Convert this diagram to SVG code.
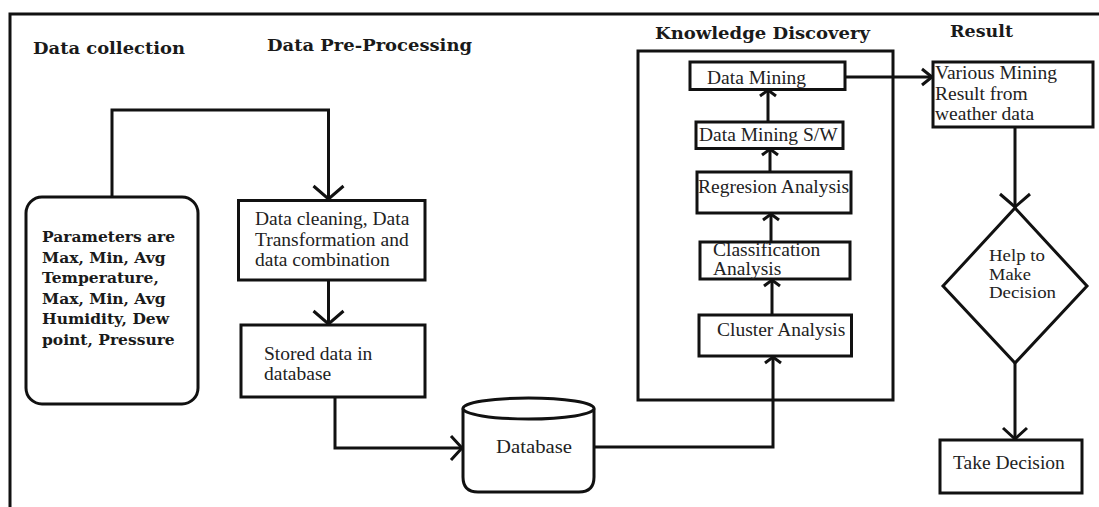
<svg xmlns="http://www.w3.org/2000/svg" width="1099" height="507" viewBox="0 0 1099 507">
<style>
.box{fill:#fff;stroke:#111;stroke-width:3}
.ln{fill:none;stroke:#111;stroke-width:3}
.h{font-family:"DejaVu Serif","Liberation Serif",serif;font-weight:bold;font-size:16px;fill:#1a1a1a}
.pb{font-family:"DejaVu Serif","Liberation Serif",serif;font-weight:bold;font-size:15.5px;fill:#1a1a1a}
.t{font-family:"Liberation Serif","Times New Roman",serif;font-size:19.5px;fill:#222}
.ts{font-family:"Liberation Serif","Times New Roman",serif;font-size:16.5px;fill:#222}
</style>
<defs>
<marker id="aBig" markerUnits="userSpaceOnUse" markerWidth="34" markerHeight="34" viewBox="-17 -17 34 34" refX="0" refY="0" orient="auto" overflow="visible"><path d="M-13,-15 L0,0 L-13,15" fill="none" stroke="#111" stroke-width="3"/></marker>
<marker id="aMid" markerUnits="userSpaceOnUse" markerWidth="30" markerHeight="30" viewBox="-15 -15 30 30" refX="0" refY="0" orient="auto" overflow="visible"><path d="M-11,-12 L0,0 L-11,12" fill="none" stroke="#111" stroke-width="3"/></marker>
<marker id="aSm" markerUnits="userSpaceOnUse" markerWidth="24" markerHeight="24" viewBox="-12 -12 24 24" refX="0" refY="0" orient="auto" overflow="visible"><path d="M-10,-8 L0,0 L-10,8" fill="none" stroke="#111" stroke-width="3"/></marker>
<marker id="aTiny" markerUnits="userSpaceOnUse" markerWidth="20" markerHeight="20" viewBox="-10 -10 20 20" refX="0" refY="0" orient="auto" overflow="visible"><path d="M-6,-8 L0,0 L-6,8" fill="none" stroke="#111" stroke-width="3"/></marker>
</defs>
<rect width="1099" height="507" fill="#fff"/>
<g id="frame"><path class="ln" d="M10,507 L10,14 L1099,14"/></g>
<g id="headings">
<text class="h" x="33" y="54" textLength="152" lengthAdjust="spacingAndGlyphs">Data collection</text>
<text class="h" x="267" y="51" textLength="205" lengthAdjust="spacingAndGlyphs">Data Pre-Processing</text>
<text class="h" x="655" y="38.5" textLength="215" lengthAdjust="spacingAndGlyphs">Knowledge Discovery</text>
<text class="h" x="950" y="37" textLength="63" lengthAdjust="spacingAndGlyphs">Result</text>
</g>
<g id="knowledge-discovery"><rect x="638" y="51" width="255" height="349" fill="none" stroke="#111" stroke-width="3"/></g>
<g id="connectors">
<path class="ln" d="M112,197 L112,110 L328.5,110 L328.5,199" marker-end="url(#aBig)"/>
<path class="ln" d="M328.5,280 L328.5,324" marker-end="url(#aBig)"/>
<path class="ln" d="M335,397 L335,448 L462,448" marker-end="url(#aMid)"/>
<path class="ln" d="M594,447 L773,447 L773,357" marker-end="url(#aTiny)"/>
<path class="ln" d="M772,315 L772,280" marker-end="url(#aTiny)"/>
<path class="ln" d="M771,242 L771,214" marker-end="url(#aTiny)"/>
<path class="ln" d="M770,172 L770,149" marker-end="url(#aTiny)"/>
<path class="ln" d="M768,122 L768,90" marker-end="url(#aTiny)"/>
<path class="ln" d="M845,77 L932,77" marker-end="url(#aSm)"/>
<path class="ln" d="M1015,127 L1015,207" marker-end="url(#aBig)"/>
<path class="ln" d="M1015,363 L1015,439" marker-end="url(#aMid)"/>
</g>
<g id="parameters">
<rect class="box" x="26" y="197" width="172" height="207" rx="16"/>
<text class="pb" x="42" y="242">Parameters are</text>
<text class="pb" x="42" y="263">Max, Min, Avg</text>
<text class="pb" x="42" y="283">Temperature,</text>
<text class="pb" x="42" y="304">Max, Min, Avg</text>
<text class="pb" x="42" y="324">Humidity, Dew</text>
<text class="pb" x="42" y="345">point, Pressure</text>
</g>
<g id="data-cleaning">
<rect class="box" x="238.5" y="200.5" width="186.5" height="79.5"/>
<text class="t" x="255" y="225">Data cleaning, Data</text>
<text class="t" x="255" y="246">Transformation and</text>
<text class="t" x="255" y="266">data combination</text>
</g>
<g id="stored-data">
<rect class="box" x="241" y="325" width="184" height="72"/>
<text class="t" x="264" y="360">Stored data in</text>
<text class="t" x="264" y="380">database</text>
</g>
<g id="database">
<path class="box" d="M463,408.5 L463,477 Q463,492 478,492 L579,492 Q594,492 594,477 L594,408.5"/>
<ellipse class="box" cx="528.5" cy="408.5" rx="65.5" ry="10.5"/>
<text class="t" x="496" y="453" textLength="76" lengthAdjust="spacingAndGlyphs">Database</text>
</g>
<g id="data-mining">
<rect class="box" x="690" y="62" width="155" height="27.5"/>
<text class="t" x="707" y="83.5">Data Mining</text>
</g>
<g id="data-mining-sw">
<rect class="box" x="696" y="122" width="147" height="26.5"/>
<text class="t" x="699" y="141">Data Mining S/W</text>
</g>
<g id="regression">
<rect class="box" x="697" y="172" width="154" height="41"/>
<text class="t" x="698" y="193">Regresion Analysis</text>
</g>
<g id="classification">
<rect class="box" x="700" y="242" width="150" height="37"/>
<text class="t" x="713" y="256">Classification</text>
<text class="t" x="713" y="275">Analysis</text>
</g>
<g id="cluster">
<rect class="box" x="699" y="315" width="152.5" height="41"/>
<text class="t" x="717" y="336">Cluster Analysis</text>
</g>
<g id="various-result">
<rect class="box" x="933" y="62" width="160" height="65"/>
<text class="t" x="935" y="79">Various Mining</text>
<text class="t" x="935" y="100">Result from</text>
<text class="t" x="935" y="120">weather data</text>
</g>
<g id="decision">
<path class="box" d="M1015,208 L1087,286 L1015,363 L943,286 Z"/>
<text class="ts" x="989" y="261" textLength="56" lengthAdjust="spacingAndGlyphs">Help to</text>
<text class="ts" x="989" y="280" textLength="42" lengthAdjust="spacingAndGlyphs">Make</text>
<text class="ts" x="989" y="298" textLength="67" lengthAdjust="spacingAndGlyphs">Decision</text>
</g>
<g id="take-decision">
<rect class="box" x="940" y="440" width="142" height="53"/>
<text class="t" x="953" y="469">Take Decision</text>
</g>
</svg>
